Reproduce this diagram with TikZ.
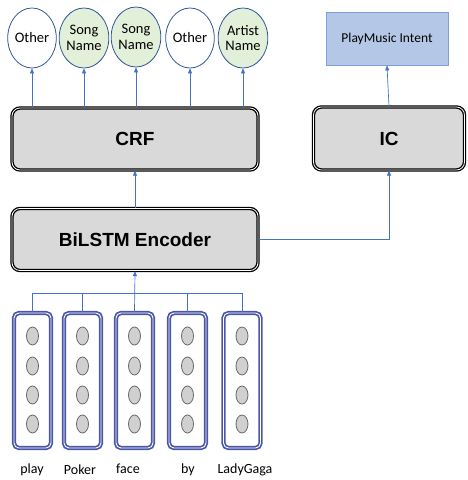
\documentclass[tikz,border=0pt]{standalone}
\usepackage{fontspec}
\setmainfont{Carlito}
\newfontfamily\boxfont{Liberation Sans}
\usetikzlibrary{shapes.geometric,arrows.meta}
\definecolor{arrblue}{HTML}{4472C4}
\definecolor{circborder}{HTML}{2F5597}
\definecolor{greenfill}{HTML}{E2EFD9}
\definecolor{intentfill}{HTML}{B4C7E7}
\definecolor{intentborder}{HTML}{7F9FD8}
\definecolor{colblue}{HTML}{4A56A6}
\definecolor{boxgray}{HTML}{D9D9D9}
\definecolor{dotgray}{HTML}{D0D0D0}
\tikzset{
  x=1pt, y=-1pt,
  tag/.style={ellipse, draw=circborder, line width=0.8pt, minimum width=45pt, minimum height=60pt, inner sep=0pt, align=center, font=\fontsize{14.5}{15.5}\selectfont},
  greentag/.style={tag, fill=greenfill},
  bigbox/.style={rectangle, rounded corners=8pt, draw=black, fill=boxgray, line width=1.3pt, double=white, double distance=0.8pt, inner sep=0pt, font=\boxfont\bfseries\fontsize{19}{22}\selectfont},
  vec/.style={rectangle, rounded corners=5pt, draw=colblue, line width=1.7pt, double=white, double distance=0.9pt, minimum width=37pt, minimum height=135pt, inner sep=0pt},
  unit/.style={ellipse, draw=gray!80!black, fill=dotgray, line width=0.8pt, minimum width=12pt, minimum height=18pt, inner sep=0pt},
  arr/.style={draw=arrblue, line width=0.7pt, -{Triangle[length=5pt,width=4pt]}},
  ln/.style={draw=arrblue, line width=0.7pt},
  word/.style={font=\fontsize{14}{16}\selectfont, inner sep=0pt}
}
\begin{document}
\begin{tikzpicture}
\useasboundingbox (0,0) rectangle (467,480);
% top tags
\node[tag] (c1) at (32,38) {Other};
\node[greentag] (c2) at (84,38) {Song\\Name};
\node[greentag] (c3) at (136,37) {Song\\Name};
\node[tag] (c4) at (190,38) {Other};
\node[greentag] (c5) at (243,38) {Artist\\Name};
% intent
\node[rectangle, draw=intentborder, fill=intentfill, line width=0.8pt, minimum width=122pt, minimum height=53pt, inner sep=0pt, font=\fontsize{13.5}{15}\selectfont] (intent) at (387,38.5) {PlayMusic Intent};
% boxes
\node[bigbox, minimum width=246pt, minimum height=62pt] (crf) at (135,139) {CRF};
\node[bigbox, minimum width=151pt, minimum height=63pt] (ic) at (389,138.5) {IC};
\node[bigbox, minimum width=246pt, minimum height=62pt] (bilstm) at (135,239.5) {BiLSTM Encoder};
% vectors
\foreach \i/\x in {1/32.5,2/82.5,3/134.5,4/187.5,5/242}{
  \node[vec] (col\i) at (\x,380.5) {};
  \foreach \j/\y in {1/336,2/366,3/395,4/424}{
    \node[unit] (u\i\j) at (\x,\y) {};
  }
}
% words
\node[word] (w1) at (32,470) {play};
\node[word] (w2) at (80,470) {Poker};
\node[word] (w3) at (128,469) {face};
\node[word] (w4) at (188,470) {by};
\node[word] (w5) at (245,470) {LadyGaga};
% arrows to tags
\foreach \i in {1,...,5}{
  \draw[arr] (crf.north -| c\i.south) -- (c\i.south);
}
\draw[arr] (bilstm.north) -- (crf.south);
\draw[arr] (ic.north) -- (intent.south);
\draw[arr] (bilstm.east) -| (ic.south);
% bus
\coordinate (bus) at (135,293);
\draw[ln] (col1.north) -- (col1.north |- bus) -- (col5.north |- bus) -- (col5.north);
\draw[ln] (col2.north) -- (col2.north |- bus);
\draw[ln] (col4.north) -- (col4.north |- bus);
\draw[arr] (col3.north) -- (bilstm.south);
\end{tikzpicture}
\end{document}
